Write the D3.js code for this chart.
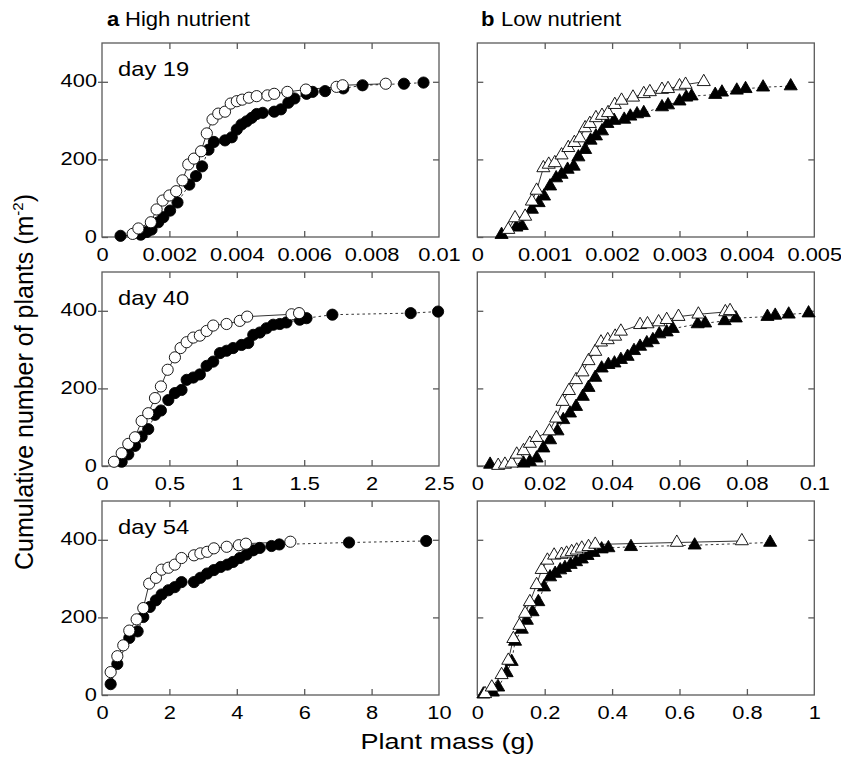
<!DOCTYPE html>
<html>
<head>
<meta charset="utf-8">
<script src="https://cdn.jsdelivr.net/npm/d3@7"></script>
<style>
  body { margin: 0; background: #fff; }
  svg { display: block; }
  text { font-family: "Liberation Sans", Arial, Helvetica, sans-serif; fill: #000; }
</style>
</head>
<body>
<svg id="chart" width="841" height="757"></svg>
<script>
// ---- data: [plant mass (g), cumulative number of plants (m-2)] ----
// day 19
const d19HighOpen = [[0.00091,8],[0.00108,22],[0.00145,38],[0.00162,71],[0.0018,94],[0.002,107],[0.0022,118],[0.00239,146],[0.00256,187],[0.00273,202],[0.00294,221],[0.00311,267],[0.00328,303],[0.00345,318],[0.00365,323],[0.00382,344],[0.004,350],[0.00416,354],[0.00436,359],[0.00459,363],[0.00491,365],[0.00511,369],[0.0055,374],[0.00605,380],[0.00696,387],[0.00714,391],[0.00842,395]];
const d19HighFilled = [[0.00055,3],[0.00115,6],[0.00133,13],[0.00147,19],[0.00167,38],[0.00182,51],[0.00202,68],[0.00224,89],[0.00259,135],[0.00279,157],[0.00297,182],[0.00316,225],[0.00332,245],[0.00365,249],[0.00385,257],[0.004,277],[0.00414,290],[0.00429,298],[0.00444,307],[0.00459,317],[0.00477,320],[0.00511,323],[0.00531,329],[0.00553,346],[0.00571,357],[0.00607,369],[0.00625,374],[0.00662,376],[0.00716,383],[0.00773,391],[0.00896,395],[0.00954,398]];
const d19LowOpen = [[0.00046,19],[0.00056,49],[0.00071,53],[0.00081,92],[0.00088,120],[0.00098,178],[0.00106,187],[0.00115,191],[0.00125,211],[0.00135,230],[0.00144,243],[0.00152,255],[0.0016,281],[0.00167,292],[0.00176,307],[0.00185,313],[0.00194,320],[0.00204,341],[0.00214,352],[0.00231,360],[0.00247,369],[0.00256,374],[0.00274,380],[0.00283,382],[0.003,389],[0.00309,393],[0.00336,400]];
const d19LowFilled = [[0.00036,6],[0.00058,25],[0.00066,29],[0.00081,71],[0.00091,88],[0.00099,105],[0.00108,131],[0.00117,152],[0.00125,161],[0.00134,174],[0.00143,182],[0.0015,206],[0.0016,225],[0.00168,249],[0.00176,260],[0.00185,273],[0.00193,292],[0.00203,300],[0.00218,303],[0.00227,311],[0.00237,317],[0.00247,320],[0.00274,335],[0.00283,340],[0.003,350],[0.0031,360],[0.00318,363],[0.00353,367],[0.00363,373],[0.00385,378],[0.00398,382],[0.00424,386],[0.00465,389]];
// day 40
const d40HighOpen = [[0.089,11],[0.146,33],[0.195,57],[0.245,74],[0.294,116],[0.343,136],[0.393,175],[0.437,205],[0.487,248],[0.541,280],[0.583,304],[0.628,319],[0.677,331],[0.726,336],[0.776,348],[0.825,362],[0.924,366],[1.022,374],[1.077,385],[1.406,391],[1.462,394]];
const d40HighFilled = [[0.146,11],[0.195,30],[0.245,52],[0.294,76],[0.343,95],[0.393,132],[0.437,143],[0.492,170],[0.541,188],[0.59,196],[0.628,222],[0.677,228],[0.726,236],[0.776,258],[0.825,269],[0.875,291],[0.924,297],[0.973,304],[1.035,312],[1.085,317],[1.122,338],[1.171,344],[1.22,355],[1.27,364],[1.319,366],[1.368,370],[1.467,377],[1.517,381],[1.709,390],[2.29,394],[2.493,398]];
const d40LowOpen = [[0.0062,1],[0.0082,4],[0.0102,7],[0.0117,30],[0.0137,39],[0.0156,58],[0.0176,73],[0.0214,90],[0.0234,123],[0.0253,166],[0.0272,194],[0.0293,222],[0.0312,242],[0.033,271],[0.035,295],[0.0367,319],[0.0387,325],[0.0409,334],[0.0426,347],[0.0483,364],[0.0505,366],[0.0538,371],[0.0562,377],[0.0597,385],[0.0656,391],[0.0736,397],[0.075,400]];
const d40LowFilled = [[0.0038,4],[0.0137,7],[0.0156,11],[0.0176,20],[0.0196,46],[0.0216,67],[0.0238,90],[0.0255,119],[0.0275,136],[0.0293,153],[0.0313,179],[0.033,202],[0.035,228],[0.0369,252],[0.0389,261],[0.0407,265],[0.0426,274],[0.0446,282],[0.0465,297],[0.0483,308],[0.0503,317],[0.0521,325],[0.054,340],[0.0562,345],[0.058,354],[0.0654,366],[0.0676,368],[0.0734,374],[0.0767,381],[0.0861,385],[0.0884,388],[0.0924,391],[0.0983,394]];
// day 54
const d54HighOpen = [[0.257,59],[0.455,100],[0.632,128],[0.81,166],[1.028,195],[1.225,224],[1.4,287],[1.6,302],[1.77,323],[1.97,328],[2.16,336],[2.36,353],[2.73,360],[2.92,365],[3.12,369],[3.32,378],[3.7,382],[4.06,386],[4.27,390],[5.59,395]];
const d54HighFilled = [[0.257,28],[0.455,80],[0.81,147],[1.057,164],[1.225,201],[1.42,227],[1.6,244],[1.77,259],[1.97,270],[2.16,278],[2.36,291],[2.73,291],[2.92,302],[3.12,313],[3.32,322],[3.52,330],[3.72,336],[3.89,343],[4.09,353],[4.29,362],[4.49,373],[4.68,379],[5.03,384],[5.26,388],[7.33,393],[9.62,397]];
const d54LowOpen = [[0.023,3],[0.043,20],[0.072,52],[0.092,89],[0.107,145],[0.125,179],[0.142,210],[0.156,240],[0.176,284],[0.191,323],[0.208,347],[0.228,360],[0.25,362],[0.265,365],[0.28,369],[0.295,373],[0.31,378],[0.33,382],[0.35,388],[0.592,393],[0.785,397]];
const d54LowFilled = [[0.018,2],[0.046,7],[0.062,20],[0.087,57],[0.102,86],[0.112,138],[0.132,169],[0.147,192],[0.164,214],[0.181,240],[0.198,278],[0.216,304],[0.231,313],[0.246,322],[0.26,328],[0.277,336],[0.293,343],[0.31,350],[0.327,359],[0.345,367],[0.369,376],[0.389,379],[0.456,382],[0.645,386],[0.869,393]];

// ---- axes ----
const yTicks = [0, 200, 400];
const xTicks19High = [0, 0.002, 0.004, 0.006, 0.008, 0.01];
const xTicks19Low = [0, 0.001, 0.002, 0.003, 0.004, 0.005];
const xTicks40High = [0, 0.5, 1, 1.5, 2, 2.5];
const xTicks40Low = [0, 0.02, 0.04, 0.06, 0.08, 0.1];
const xTicks54High = [0, 2, 4, 6, 8, 10];
const xTicks54Low = [0, 0.2, 0.4, 0.6, 0.8, 1];
const dayLabels = ["day 19", "day 40", "day 54"];
const columnLetters = ["a", "b"];
const columnTitles = ["High nutrient", "Low nutrient"];

const panels = [
  { row: 0, col: 0, open: d19HighOpen, filled: d19HighFilled, ticks: xTicks19High, marker: "circle" },
  { row: 0, col: 1, open: d19LowOpen, filled: d19LowFilled, ticks: xTicks19Low, marker: "triangle" },
  { row: 1, col: 0, open: d40HighOpen, filled: d40HighFilled, ticks: xTicks40High, marker: "circle" },
  { row: 1, col: 1, open: d40LowOpen, filled: d40LowFilled, ticks: xTicks40Low, marker: "triangle" },
  { row: 2, col: 0, open: d54HighOpen, filled: d54HighFilled, ticks: xTicks54High, marker: "circle" },
  { row: 2, col: 1, open: d54LowOpen, filled: d54LowFilled, ticks: xTicks54Low, marker: "triangle" }
];

// layout
const colLeft = [102, 477.3];
const rowTop = [43, 272, 501];
const panelW = 337, panelH = 194;
const frameColor = "#5a5a5a";
const sx = 1.18; // horizontal text stretch

const svg = d3.select("#chart");

// stretch text horizontally keeping its anchor x
function stretch(sel, s) {
  sel.each(function() {
    const t = d3.select(this);
    const x = +t.attr("x") || 0;
    t.attr("x", x / s).attr("transform", `scale(${s},1)`);
  });
}

function addText(x, y, str, size, s, weight) {
  const t = svg.append("g").attr("transform", `translate(${x},${y})`)
    .append("text")
    .attr("font-size", size)
    .attr("font-weight", weight || "normal")
    .text(str);
  stretch(t, s);
  return t;
}

const fmt = d => String(+d.toFixed(6));

panels.forEach(p => {
  const g = svg.append("g").attr("transform", `translate(${colLeft[p.col]},${rowTop[p.row]})`);
  const xMax = p.ticks[p.ticks.length - 1];
  const x = d3.scaleLinear().domain([0, xMax]).range([0, panelW]);
  const y = d3.scaleLinear().domain([0, 500]).range([panelH, 0]);

  g.append("rect")
    .attr("width", panelW).attr("height", panelH)
    .attr("fill", "none").attr("stroke", frameColor).attr("stroke-width", 1.3);

  // bottom axis with labels
  const bottom = g.append("g").attr("transform", `translate(0,${panelH})`)
    .call(d3.axisBottom(x).tickValues(p.ticks).tickSizeInner(-6).tickSizeOuter(0).tickPadding(11).tickFormat(fmt));
  // top / right ticks
  const top = g.append("g")
    .call(d3.axisTop(x).tickValues(p.ticks.slice(1, -1)).tickSizeInner(-6).tickSizeOuter(0).tickFormat(""));
  const right = g.append("g").attr("transform", `translate(${panelW},0)`)
    .call(d3.axisRight(y).tickValues(yTicks.slice(1)).tickSizeInner(-6).tickSizeOuter(0).tickFormat(""));
  const left = g.append("g")
    .call(d3.axisLeft(y).tickValues(yTicks).tickSizeInner(-6).tickSizeOuter(0).tickPadding(5)
      .tickFormat(p.col === 0 ? d3.format("d") : ""));
  const axes = [bottom, top, right, left];
  if (p.col === 0) {
    axes.push(g.append("g")
      .call(d3.axisLeft(y).tickValues(yTicks.slice(1)).tickSize(4).tickFormat("")));
  }
  axes.forEach(a => {
    a.select(".domain").remove();
    a.selectAll(".tick line").attr("stroke", frameColor).attr("stroke-width", 1.3);
    a.selectAll(".tick text")
      .attr("font-family", "Liberation Sans, Arial, Helvetica, sans-serif")
      .attr("font-size", 18.5).attr("fill", "#000");
  });
  bottom.selectAll(".tick")
    .filter(d => d === 0 || d === xMax).select("line").remove();
  stretch(bottom.selectAll(".tick text"), sx);
  left.selectAll(".tick text").attr("dy", "0.27em");
  stretch(left.selectAll(".tick text"), sx);

  // connecting lines
  const line = d3.line().x(d => x(d[0])).y(d => y(d[1]));
  g.append("path").datum(p.filled)
    .attr("d", line).attr("fill", "none").attr("stroke", "#000")
    .attr("stroke-width", 0.8).attr("stroke-dasharray", "2.5,3");
  g.append("path").datum(p.open)
    .attr("d", line).attr("fill", "none").attr("stroke", "#000")
    .attr("stroke-width", 0.8);

  // markers: filled first, open on top
  const drawMarkers = (data, fill) => {
    if (p.marker === "circle") {
      g.append("g").selectAll("circle").data(data).join("circle")
        .attr("cx", d => x(d[0])).attr("cy", d => y(d[1])).attr("r", 5.6)
        .attr("fill", fill).attr("stroke", "#000").attr("stroke-width", 0.9);
    } else {
      const sym = d3.symbol().type(d3.symbolTriangle).size(74);
      g.append("g").selectAll("path").data(data).join("path")
        .attr("transform", d => `translate(${x(d[0])},${y(d[1])})`)
        .attr("d", sym)
        .attr("fill", fill).attr("stroke", "#000").attr("stroke-width", 0.9);
    }
  };
  drawMarkers(p.filled, "#000");
  drawMarkers(p.open, "#fff");

  if (p.col === 0) {
    addText(colLeft[0] + 16, rowTop[p.row] + 33, dayLabels[p.row], 21, 1.13);
  }
});

// column titles
addText(107, 26, columnLetters[0], 21, 1.05, "bold");
addText(125, 26, columnTitles[0], 21, 1.05);
addText(481, 26, columnLetters[1], 21, 1.05, "bold");
addText(501, 26, columnTitles[1], 21, 1.05);

// x axis title
addText(447.5, 749, "Plant mass (g)", 22.5, 1.2).attr("text-anchor", "middle");

// y axis title
const yTitle = svg.append("text")
  .attr("transform", "translate(33,382) rotate(-90)")
  .attr("text-anchor", "middle")
  .attr("font-size", 25);
yTitle.append("tspan").text("Cumulative number of plants (m");
yTitle.append("tspan").attr("font-size", 15).attr("dy", -10).text("-2");
yTitle.append("tspan").attr("dy", 10).text(")");
</script>
</body>
</html>
